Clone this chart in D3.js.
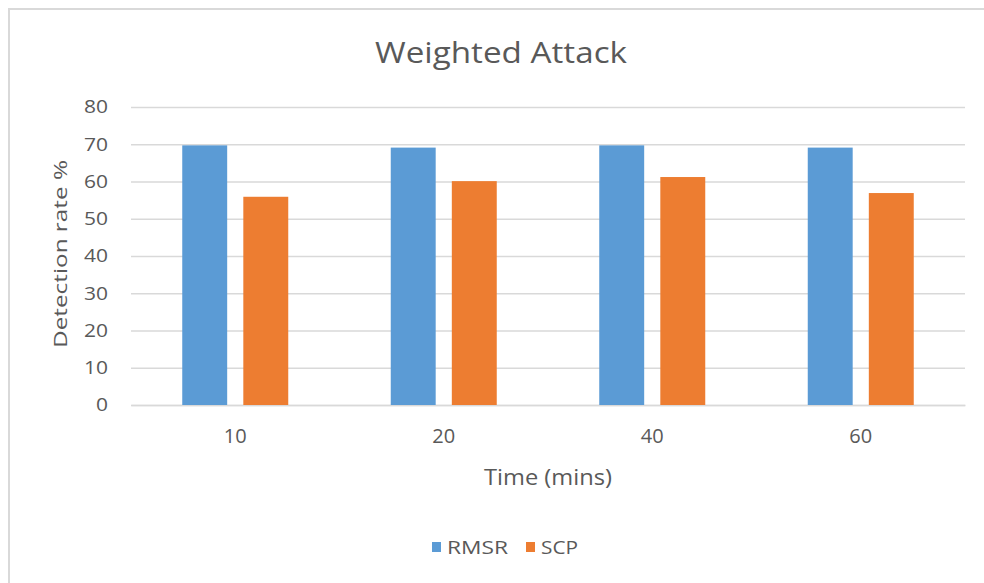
<!DOCTYPE html>
<html>
<head>
<meta charset="utf-8">
<script src="https://cdn.jsdelivr.net/npm/d3@7"></script>
<style>
  html, body { margin: 0; padding: 0; background: #ffffff; }
  svg { display: block; }
  text { font-family: "Open Sans", Lato, sans-serif; fill: #595959; }
</style>
</head>
<body>
<svg id="chart" width="984" height="583"></svg>
<script>
// Detection rate per observation window for the two detectors
const categories = ["10", "20", "40", "60"];
const seriesNames = ["RMSR", "SCP"];
const rmsrValues = [69.7, 69.1, 69.7, 69.1];
const scpValues = [55.9, 60.1, 61.2, 56.9];
const yTicks = [0, 10, 20, 30, 40, 50, 60, 70, 80];
const colors = ["#5b9bd5", "#ed7d31"];

const svg = d3.select("#chart");
const W = 984, H = 583;

// chart frame
svg.append("rect")
  .attr("x", 9).attr("y", 9)
  .attr("width", W).attr("height", H)
  .attr("fill", "#ffffff")
  .attr("stroke", "#d9d9d9").attr("stroke-width", 2);

const plot = { left: 131, right: 965, top: 107, bottom: 405 };

const x = d3.scaleBand()
  .domain(categories)
  .range([plot.left, plot.right])
  .paddingInner(0).paddingOuter(0);

const groupWidth = 106;
const xInner = d3.scaleBand()
  .domain(seriesNames)
  .range([0, groupWidth])
  .paddingInner(14 / 53);

const y = d3.scaleLinear().domain([0, 80]).range([plot.bottom, plot.top]);

// gridlines + y labels
const yAxis = d3.axisLeft(y).tickValues(yTicks)
  .tickSize(-(plot.right - plot.left)).tickPadding(23).tickFormat(d3.format("d"));
const gy = svg.append("g").attr("transform", `translate(${plot.left},0)`).call(yAxis);
gy.select(".domain").remove();
gy.selectAll(".tick line").attr("stroke", "#d9d9d9").attr("stroke-width", 1.3);
gy.selectAll(".tick text").attr("font-size", 18).attr("fill", "#595959")
  .attr("font-family", "'Open Sans', sans-serif")
  .attr("textLength", d => String(d).length * 12)
  .attr("lengthAdjust", "spacingAndGlyphs");

// x labels
const xAxis = d3.axisBottom(x).tickSize(0).tickPadding(0);
const gx = svg.append("g").attr("transform", `translate(0,${plot.bottom})`).call(xAxis);
gx.select(".domain").attr("stroke", "#d9d9d9").attr("stroke-width", 1.3);
gx.selectAll(".tick text").attr("font-size", 20).attr("fill", "#595959")
  .attr("font-family", "'Open Sans', sans-serif")
  .attr("dy", null).attr("y", 38);

// bars
const data = categories.map((c, i) => ({ cat: c, vals: [rmsrValues[i], scpValues[i]] }));
const groups = svg.append("g").selectAll("g").data(data).join("g")
  .attr("transform", d => `translate(${x(d.cat) + (x.bandwidth() - groupWidth) / 2},0)`);
groups.selectAll("rect")
  .data(d => d.vals.map((v, j) => ({ name: seriesNames[j], v, j })))
  .join("rect")
  .attr("x", d => xInner(d.name))
  .attr("width", xInner.bandwidth())
  .attr("y", d => y(d.v))
  .attr("height", d => y(0) - y(d.v))
  .attr("fill", d => colors[d.j]);

// title
svg.append("text")
  .attr("x", 375).attr("y", 63)
  .attr("font-size", 30)
  .attr("font-weight", 400)
  .attr("textLength", 252).attr("lengthAdjust", "spacingAndGlyphs")
  .text("Weighted Attack");

// axis titles
svg.append("text")
  .attr("x", 484).attr("y", 485)
  .attr("font-size", 22)
  .attr("textLength", 128).attr("lengthAdjust", "spacingAndGlyphs")
  .text("Time (mins)");

svg.append("text")
  .attr("transform", "translate(67,348) rotate(-90)")
  .attr("font-size", 19)
  .attr("textLength", 188).attr("lengthAdjust", "spacingAndGlyphs")
  .text("Detection rate %");

// legend
const legendX = [432, 526];
const legendW = [61, 37];
const legend = svg.append("g").selectAll("g").data(seriesNames).join("g")
  .attr("transform", (d, i) => `translate(${legendX[i]},542)`);
legend.append("rect").attr("width", 9).attr("height", 10).attr("fill", (d, i) => colors[i]);
legend.append("text").attr("x", 15).attr("y", 11.5)
  .attr("font-size", 18)
  .attr("textLength", (d, i) => legendW[i]).attr("lengthAdjust", "spacingAndGlyphs")
  .text(d => d);
</script>
</body>
</html>
